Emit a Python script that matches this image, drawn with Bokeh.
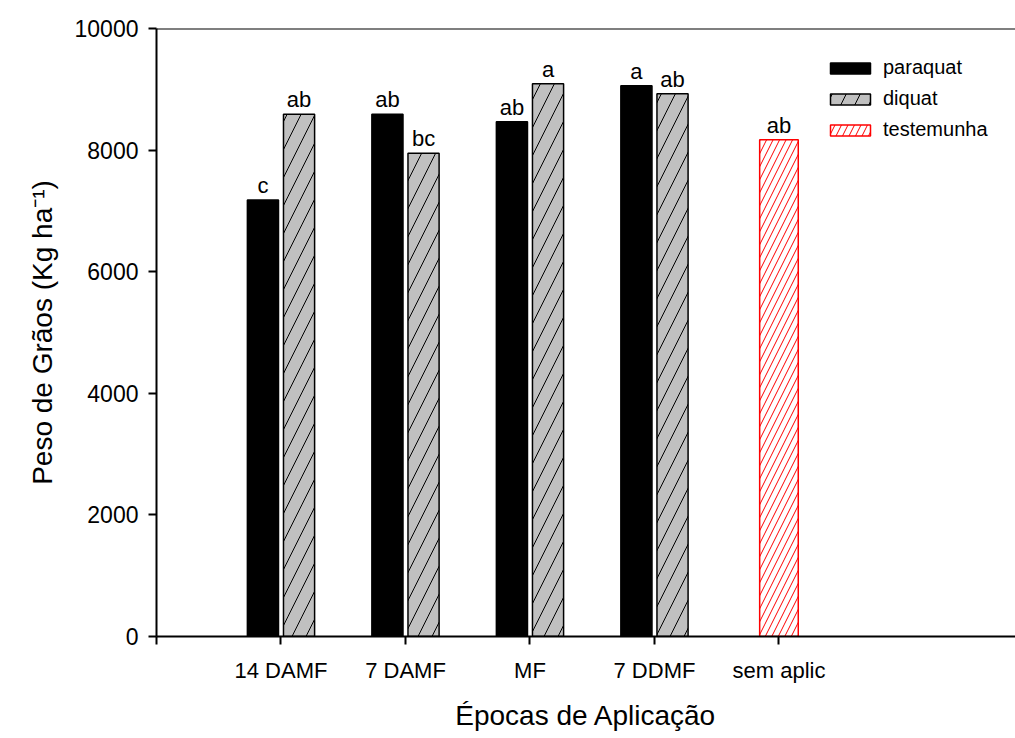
from bokeh.plotting import figure
from bokeh.models import ColumnDataSource, Range1d, FixedTicker, Span, Legend, LegendItem
from bokeh.transform import dodge
from bokeh.core.properties import value
from bokeh.embed import file_html
from bokeh.resources import INLINE

categories = ["14 DAMF", "7 DAMF", "MF", "7 DDMF"]
control_category = "sem aplic"
paraquat = [7180, 8590, 8465, 9060]
diquat = [8590, 7950, 9090, 8925]
testemunha = [8170]
paraquat_letters = ["c", "ab", "ab", "a"]
diquat_letters = ["ab", "bc", "a", "ab"]
testemunha_letters = ["ab"]
y_ticks = [0, 2000, 4000, 6000, 8000, 10000]

FONT = "Liberation Sans"

pos = list(range(1, len(categories) + 1))
ctrl_pos = [len(categories) + 1]

src = ColumnDataSource(dict(x=pos, paraquat=paraquat, diquat=diquat,
                            pl=paraquat_letters, dl=diquat_letters))
src_c = ColumnDataSource(dict(x=ctrl_pos, t=testemunha, tl=testemunha_letters))

p = figure(width=1015, height=738, output_backend="svg", toolbar_location=None,
           x_range=Range1d(0, 6.9), y_range=Range1d(0, 10000),
           min_border_left=156, min_border_right=0, min_border_top=28, min_border_bottom=102)
p.outline_line_color = None
p.xgrid.visible = False
p.ygrid.visible = False
p.background_fill_color = "white"
p.border_fill_color = "white"

r1 = p.vbar(x=dodge("x", -0.145, range=p.x_range), top="paraquat", width=0.25, source=src,
            fill_color="black", line_color="black", line_width=1.5)
r2 = p.vbar(x=dodge("x", 0.145, range=p.x_range), top="diquat", width=0.25, source=src,
            fill_color="#c0c0c0", line_color="black", line_width=1.5,
            hatch_pattern="/", hatch_color="black", hatch_scale=28, hatch_weight=1)
r3 = p.vbar(x="x", top="t", width=0.31, source=src_c,
            fill_color="white", line_color="red", line_width=1.5,
            hatch_pattern="/", hatch_color="red", hatch_scale=13, hatch_weight=1)

txt = dict(text_font=value(FONT), text_font_size="22px", text_align="center",
           text_baseline="bottom", y_offset=-2, text_color="black")
p.text(x=dodge("x", -0.145, range=p.x_range), y="paraquat", text="pl", source=src, **txt)
p.text(x=dodge("x", 0.145, range=p.x_range), y="diquat", text="dl", source=src, **txt)
p.text(x="x", y="t", text="tl", source=src_c, **txt)

p.add_layout(Span(location=10000, dimension="width", line_color="black", line_width=2))

# axes
xa = p.xaxis[0]
xa.ticker = FixedTicker(ticks=[0] + pos + ctrl_pos)
overrides = {0: ""}
for i, c in zip(pos, categories):
    overrides[i] = c
overrides[ctrl_pos[0]] = control_category
xa.major_label_overrides = overrides
xa.minor_tick_line_color = None
xa.major_tick_in = 0
xa.major_tick_out = 8
xa.axis_label = "Épocas de Aplicação"
xa.axis_label_text_font = FONT
xa.axis_label_text_font_size = "28px"
xa.axis_label_text_font_style = "normal"
xa.axis_label_text_color = "black"
xa.axis_label_standoff = 14
xa.major_label_text_font = FONT
xa.major_label_text_font_size = "22px"
xa.major_label_text_color = "black"
xa.major_label_standoff = 13
xa.axis_line_width = 2
xa.major_tick_line_width = 2

ya = p.yaxis[0]
ya.ticker = FixedTicker(ticks=y_ticks)
ya.minor_tick_line_color = None
ya.major_tick_in = 0
ya.major_tick_out = 8
ya.axis_label = "Peso de Grãos (Kg ha⁻¹)"
ya.axis_label_text_font = FONT
ya.axis_label_text_font_size = "28px"
ya.axis_label_text_font_style = "normal"
ya.axis_label_text_color = "black"
ya.axis_label_standoff = 14
ya.major_label_text_font = FONT
ya.major_label_text_font_size = "23px"
ya.major_label_text_color = "black"
ya.major_label_standoff = 10
ya.axis_line_width = 2
ya.major_tick_line_width = 2

legend = Legend(items=[LegendItem(label="paraquat", renderers=[r1]),
                       LegendItem(label="diquat", renderers=[r2]),
                       LegendItem(label="testemunha", renderers=[r3])],
                location=(669, 495), border_line_color=None, background_fill_alpha=0,
                padding=0, margin=0, spacing=8, glyph_width=50, glyph_height=14,
                label_height=20, label_standoff=8,
                label_text_font=FONT, label_text_font_size="20px", label_text_color="black")
p.add_layout(legend)

open("out.html", "w").write(file_html(p, INLINE))
